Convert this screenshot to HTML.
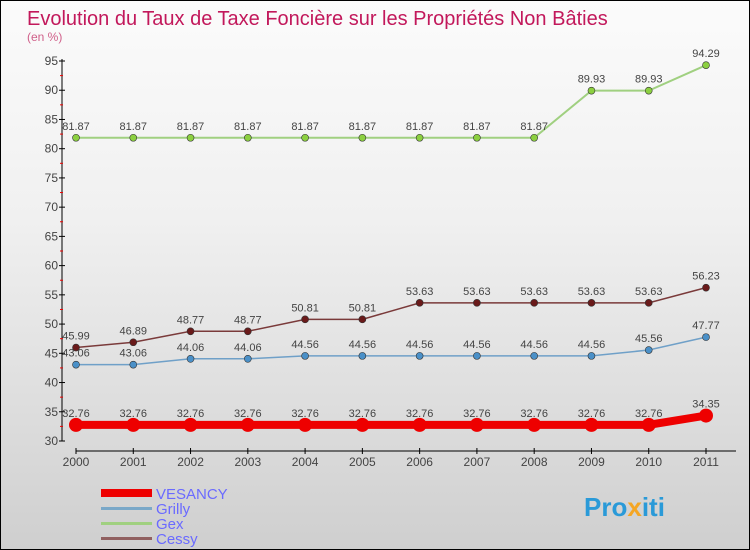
<!DOCTYPE html>
<html><head><meta charset="utf-8"><style>
body{margin:0}
#c{width:748px;height:548px;border:1px solid #000;background:linear-gradient(#fbfbfb,#f0f0f0 40%,#cfcfcf);position:relative;overflow:hidden;font-family:"Liberation Sans",sans-serif}
svg{position:absolute;left:0;top:0}
</style></head><body>
<div id="c">
<svg id="s" width="748" height="548">
<text x="26" y="24" font-size="20" fill="#c2185b">Evolution du Taux de Taxe Foncière sur les Propriétés Non Bâties</text>
<text x="26" y="40" font-size="12" fill="#d0608a">(en %)</text>
<g id="axes"></g><g id="series"></g>
<g>
<rect x="100" y="488" width="51" height="8" fill="#e00"/>
<text x="155" y="498" font-size="15" fill="#6a6aff">VESANCY</text>
<rect x="100" y="506" width="51" height="3" fill="#7aa8c8"/>
<text x="155" y="513" font-size="15" fill="#6a6aff">Grilly</text>
<rect x="100" y="521" width="51" height="3" fill="#a0d080"/>
<text x="155" y="528" font-size="15" fill="#6a6aff">Gex</text>
<rect x="100" y="536" width="51" height="3" fill="#906060"/>
<text x="155" y="543" font-size="15" fill="#6a6aff">Cessy</text>
</g>
<text x="583" y="515" font-size="26" font-weight="bold" fill="#2a9ad8">Pro<tspan fill="#f5a623">x</tspan>iti</text>
</svg></div>
<script>
const years=[2000,2001,2002,2003,2004,2005,2006,2007,2008,2009,2010,2011];
const yTicks=[30,35,40,45,50,55,60,65,70,75,80,85,90,95];
const vesancy=[32.76,32.76,32.76,32.76,32.76,32.76,32.76,32.76,32.76,32.76,32.76,34.35];
const grilly=[43.06,43.06,44.06,44.06,44.56,44.56,44.56,44.56,44.56,44.56,45.56,47.77];
const gex=[81.87,81.87,81.87,81.87,81.87,81.87,81.87,81.87,81.87,89.93,89.93,94.29];
const cessy=[45.99,46.89,48.77,48.77,50.81,50.81,53.63,53.63,53.63,53.63,53.63,56.23];
const NS="http://www.w3.org/2000/svg";
const X=i=>75+i*(630/11);
const Y=v=>440-(v-30)*(380/65);
function mk(t,a,p){const e=document.createElementNS(NS,t);for(const k in a)e.setAttribute(k,a[k]);p.appendChild(e);return e;}
const ax=document.getElementById('axes'),sr=document.getElementById('series');
let l=mk('line',{x1:61,y1:58,x2:61,y2:440,stroke:'#000'},ax);


yTicks.forEach(v=>{
 mk('line',{x1:58,y1:Y(v),x2:64,y2:Y(v),stroke:'#000'},ax);
 if(v<95)mk('line',{x1:59,y1:Y(v+2.5),x2:62,y2:Y(v+2.5),stroke:'#e00'},ax);
 const t=mk('text',{x:57,y:Y(v)+4,'font-size':12,fill:'#444','text-anchor':'end'},ax);t.textContent=v;
 
 
});
l=mk('line',{x1:75,y1:450,x2:735,y2:450,stroke:'#000'},ax);


years.forEach((y,i)=>{
 mk('line',{x1:X(i),y1:447,x2:X(i),y2:453,stroke:'#000'},ax);
 const t=mk('text',{x:X(i),y:465,'font-size':12,fill:'#444','text-anchor':'middle'},ax);t.textContent=y;
 
 
});
function series(name,data,col,w,r,dot){
 const g=mk('g',{},sr);
 
 
 const p=mk('polyline',{points:data.map((v,i)=>X(i)+','+Y(v)).join(' '),fill:'none',stroke:col,'stroke-width':w},g);
 
 
 data.forEach((v,i)=>{
  const c=mk('circle',{cx:X(i),cy:Y(v),r:r,fill:dot,stroke:'#333','stroke-width':r>5?0:0.6},g);
  
  
  const t=mk('text',{x:X(i),y:Y(v)-8,'font-size':11,fill:'#444','text-anchor':'middle'},g);t.textContent=v.toFixed(2);
  
  
 });
}
series('gex',gex,'#a0d080',2,3.5,'#8cd040');
series('cessy',cessy,'#7a3a3a',1.5,3.5,'#6a1a1a');
series('grilly',grilly,'#6fa0c8',1.5,3.5,'#4a90c8');
series('vesancy',vesancy,'#e00',8,7,'#e00');
</script>
</body></html>
